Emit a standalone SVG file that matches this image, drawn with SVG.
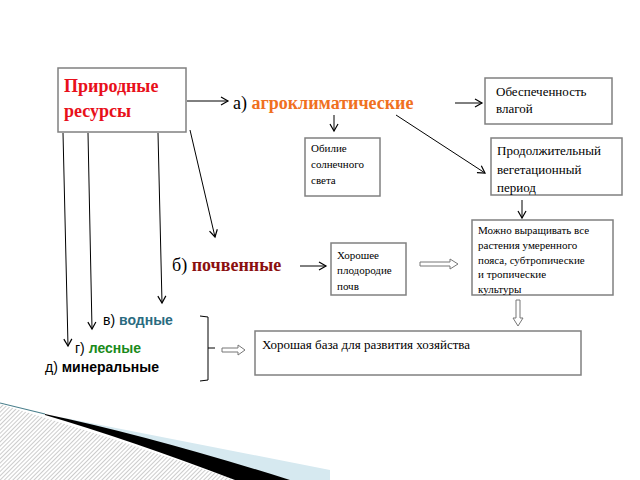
<svg xmlns="http://www.w3.org/2000/svg" width="640" height="480" viewBox="0 0 640 480">
<defs>
<marker id="ah" markerWidth="10" markerHeight="10" refX="8" refY="5" orient="auto" markerUnits="userSpaceOnUse"><path d="M1,1 L8,5 L1,9" fill="none" stroke="#000" stroke-width="1.2"/></marker>
<pattern id="hatch" width="3" height="3" patternUnits="userSpaceOnUse" patternTransform="rotate(45)"><rect width="3" height="3" fill="#fff"/><line x1="0" y1="0" x2="0" y2="3" stroke="#999" stroke-width="1"/></pattern>
</defs>
<style>
.box{fill:#fff;stroke:#808080;stroke-width:1.5}
.ser{font-family:'Liberation Serif','DejaVu Serif','Times New Roman',serif}
.sans{font-family:'Liberation Sans',Arial,sans-serif}
.sm{font-size:11px}
.md{font-size:13px}
.ln{stroke:#000;stroke-width:1;fill:none}
.dbl{stroke:#777;stroke-width:1;fill:#fff}
</style>
<rect width="640" height="480" fill="#fff"/>
<g id="decor">
<path d="M60,417 L330,470 L330,480 L290,480 Z" fill="#d6e9f0"/>
<path d="M0,404 Q120,440 235,480 L0,480 Z" fill="url(#hatch)"/>
<path d="M45,414 Q150,436 290,480 L235,480 Q130,440 45,415 Z" fill="#000"/>
<path d="M0,403 L45,414" stroke="#4a7f8c" stroke-width="1.2"/>
</g>
<g id="connectors">
<line class="ln" x1="187" y1="101" x2="228" y2="101" marker-end="url(#ah)"/>
<line class="ln" x1="455" y1="103" x2="482" y2="103" marker-end="url(#ah)"/>
<line class="ln" x1="334" y1="115" x2="334" y2="131" marker-end="url(#ah)"/>
<line class="ln" x1="396" y1="115" x2="485" y2="173" marker-end="url(#ah)"/>
<line class="ln" x1="522" y1="200" x2="522" y2="218" marker-end="url(#ah)"/>
<line class="ln" x1="300" y1="266" x2="326" y2="266" marker-end="url(#ah)"/>
<line class="ln" x1="190" y1="130" x2="215" y2="237" marker-end="url(#ah)"/>
<line class="ln" x1="63" y1="133" x2="68" y2="346" marker-end="url(#ah)"/>
<line class="ln" x1="88" y1="133" x2="92" y2="329" marker-end="url(#ah)"/>
<line class="ln" x1="158" y1="133" x2="162" y2="303" marker-end="url(#ah)"/>
<path class="ln" d="M200,316 L208,317 L208,380 L200,381 M208,348 L215,348" stroke="#666"/>
<path class="dbl" d="M222,348 L238,348 L238,345 L245,350 L238,355 L238,352 L222,352 Z"/>
<path class="dbl" d="M420,262 L450,262 L450,259 L458,264 L450,269 L450,266 L420,266 Z"/>
<path class="dbl" d="M516,300 L516,318 L513,318 L518,326 L523,318 L520,318 L520,300 Z"/>
</g>
<g id="n-prirod">
<rect class="box" x="58" y="68" width="128" height="64"/>
<text class="ser" x="64" y="92" font-size="18" font-weight="bold" fill="#e8101a">Природные</text>
<text class="ser" x="64" y="117" font-size="18" font-weight="bold" fill="#e8101a">ресурсы</text>
</g>
<g id="n-agro"><text class="ser" x="233" y="109" font-size="18">а) <tspan font-weight="bold" fill="#f07020">агроклиматические</tspan></text></g>
<g id="n-vlaga">
<rect class="box" x="485" y="78" width="127" height="46"/>
<text class="ser md" x="496" y="96">Обеспеченность</text>
<text class="ser md" x="496" y="113">влагой</text>
</g>
<g id="n-solnce">
<rect class="box" x="305" y="138" width="75" height="58"/>
<text class="ser sm" x="311" y="152">Обилие</text>
<text class="ser sm" x="311" y="168">солнечного</text>
<text class="ser sm" x="311" y="184">света</text>
</g>
<g id="n-period">
<rect class="box" x="491" y="138" width="131" height="57"/>
<text class="ser md" x="497" y="155">Продолжительный</text>
<text class="ser md" x="497" y="174">вегетационный</text>
<text class="ser md" x="497" y="192">период</text>
</g>
<g id="n-mozhno">
<rect class="box" x="472" y="220" width="141" height="75"/>
<text class="ser sm" x="478" y="234">Можно выращивать все</text>
<text class="ser sm" x="478" y="249">растения умеренного</text>
<text class="ser sm" x="478" y="264">пояса, субтропические</text>
<text class="ser sm" x="478" y="278">и тропические</text>
<text class="ser sm" x="478" y="293">культуры</text>
</g>
<g id="n-pochv"><text class="ser" x="172" y="271" font-size="18">б) <tspan font-weight="bold" fill="#8b1010">почвенные</tspan></text></g>
<g id="n-plodor">
<rect class="box" x="331" y="243" width="75" height="52"/>
<text class="ser sm" x="337" y="259">Хорошее</text>
<text class="ser sm" x="337" y="274">плодородие</text>
<text class="ser sm" x="337" y="290">почв</text>
</g>
<g id="n-vod"><text class="sans" x="103" y="325" font-size="14">в) <tspan font-weight="bold" fill="#2a6b7f">водные</tspan></text></g>
<g id="n-les"><text class="sans" x="75" y="353" font-size="14">г) <tspan font-weight="bold" fill="#1a8a1a">лесные</tspan></text></g>
<g id="n-min"><text class="sans" x="45" y="372" font-size="14">д) <tspan font-weight="bold">минеральные</tspan></text></g>
<g id="n-baza">
<rect class="box" x="255" y="331" width="326" height="44"/>
<text class="ser md" x="262" y="349">Хорошая база для развития хозяйства</text>
</g>
</svg>
